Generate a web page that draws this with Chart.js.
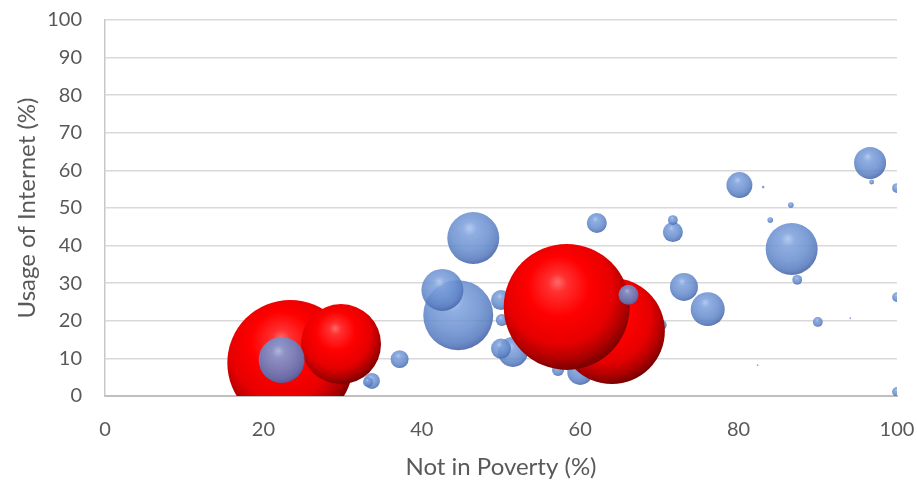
<!DOCTYPE html>
<html>
<head>
<meta charset="utf-8">
<script src="https://cdn.jsdelivr.net/npm/chart.js@4.4.1/dist/chart.umd.min.js"></script>
<style>
  html, body { margin: 0; padding: 0; background: #fff; }
  #wrap { width: 917px; height: 480px; }
</style>
</head>
<body>
<div id="wrap"><canvas id="bubbleChart" width="917" height="480"></canvas></div>
<script>
// one entry per country, in drawing order (later entries sit on top)
const notInPoverty = [50.0, 50.1, 51.5, 50.0, 57.2, 60.0, 70.3,
  64.0, 58.3, 23.4, 29.8,
  22.3, 66.1, 37.2, 33.7, 33.2, 44.6, 42.6, 46.5, 62.1, 71.7, 71.7, 73.1, 76.1,
  80.1, 83.1, 84.0, 86.6, 86.7, 87.4, 90.0, 96.6, 96.8, 100, 100, 100, 94.1, 82.4];
const internetUsage = [25.5, 20.2, 11.7, 12.6, 6.9, 6.4, 18.9,
  17.3, 23.7, 8.8, 13.8,
  9.6, 26.9, 9.8, 4.0, 3.7, 21.5, 28.2, 42.0, 46.0, 43.6, 46.8, 29.0, 23.1,
  56.1, 55.6, 46.8, 50.8, 39.1, 30.9, 19.7, 62.0, 56.9, 55.3, 26.3, 1.1, 20.7, 8.2];
const population = [25, 9, 56, 25, 9, 42, 6,
  702, 992, 992, 400,
  132, 25, 20, 16, 6, 306, 110, 169, 25, 25, 6, 49, 72,
  42, 0.4, 2, 2, 169, 6, 6, 64, 1.5, 6, 6, 6, 0.16, 0.16];
const highlighted = [0, 0, 0, 0, 0, 0, 0,
  1, 1, 1, 1,
  0, 0, 0, 0, 0, 0, 0, 0, 0, 0, 0, 0, 0,
  0, 0, 0, 0, 0, 0, 0, 0, 0, 0, 0, 0, 0, 0];

const xTicks = [0, 20, 40, 60, 80, 100];
const yTicks = [0, 10, 20, 30, 40, 50, 60, 70, 80, 90, 100];

const BUBBLE_SCALE = 2; // radius in px = sqrt(size) * scale
const FONT = 'Lato, "Open Sans", sans-serif';

// shaded "3D ball" fill for each bubble
function ballFill(c) {
  const i = c.dataIndex;
  const flat = highlighted[i] ? '#f00000' : 'rgba(105,143,208,0.85)';
  if (c.type !== 'data') return flat;
  const chart = c.chart;
  const cx = chart.scales.x.getPixelForValue(notInPoverty[i]);
  const cy = chart.scales.y.getPixelForValue(internetUsage[i]);
  const r = Math.max(Math.sqrt(population[i]) * BUBBLE_SCALE, 0.5);
  if (!isFinite(cx) || !isFinite(cy)) return flat;
  const g = chart.ctx.createRadialGradient(cx - r * 0.15, cy - r * 0.4, 0,
                                           cx - r * 0.1, cy - r * 0.2, r * 1.22);
  if (highlighted[i]) {
    g.addColorStop(0, '#ff6a6a');
    g.addColorStop(0.12, '#ff3030');
    g.addColorStop(0.4, '#ff0000');
    g.addColorStop(0.7, '#e60000');
    g.addColorStop(0.87, '#b00000');
    g.addColorStop(1, '#760000');
  } else {
    g.addColorStop(0, 'rgba(172,198,238,0.9)');
    g.addColorStop(0.22, 'rgba(126,161,220,0.87)');
    g.addColorStop(0.6, 'rgba(104,142,207,0.86)');
    g.addColorStop(0.85, 'rgba(88,124,192,0.87)');
    g.addColorStop(1, 'rgba(70,100,168,0.9)');
  }
  return g;
}

const points = notInPoverty.map((x, i) => ({
  x: x,
  y: internetUsage[i],
  r: Math.sqrt(population[i]) * BUBBLE_SCALE
}));

const ctx = document.getElementById('bubbleChart').getContext('2d');
const chart = new Chart(ctx, {
  type: 'bubble',
  data: {
    datasets: [{
      label: 'Countries',
      data: points,
      backgroundColor: ballFill,
      borderWidth: 0,
      clip: 0
    }]
  },
  options: {
    responsive: false,
    animation: false,
    events: [],
    layout: { autoPadding: false, padding: { left: 0, right: 20, top: 20, bottom: 0 } },
    plugins: {
      legend: { display: false },
      tooltip: { enabled: false }
    },
    scales: {
      x: {
        type: 'linear',
        min: 0,
        max: 100,
        afterBuildTicks: s => { s.ticks = xTicks.map(v => ({ value: v })); },
        afterFit: s => { s.height = 84; s.paddingLeft = 0; s.paddingRight = 10; },
        grid: { display: false, drawTicks: false },
        border: { display: true, color: '#bfbfbf', width: 2 },
        ticks: { color: '#595959', font: { family: FONT, size: 20 }, padding: 22, maxRotation: 0 },
        title: {
          display: true,
          text: 'Not in Poverty (%)',
          color: '#595959',
          font: { family: FONT, size: 24, lineHeight: 1.1 },
          padding: { top: 0, bottom: 0 }
        }
      },
      y: {
        type: 'linear',
        min: 0,
        max: 100,
        afterBuildTicks: s => { s.ticks = yTicks.map(v => ({ value: v })); },
        afterFit: s => { s.width = 105; s.paddingTop = 10; s.paddingBottom = 0; },
        grid: { color: '#d9d9d9', lineWidth: 1.5, drawTicks: false },
        border: { display: true, color: '#c8c8c8', width: 1.5 },
        ticks: { color: '#595959', font: { family: FONT, size: 20 }, padding: 23 },
        title: {
          display: true,
          text: 'Usage of Internet (%)',
          color: '#595959',
          font: { family: FONT, size: 24, lineHeight: 1.2 },
          padding: { top: 13, bottom: 0 }
        }
      }
    }
  }
});
</script>
</body>
</html>
